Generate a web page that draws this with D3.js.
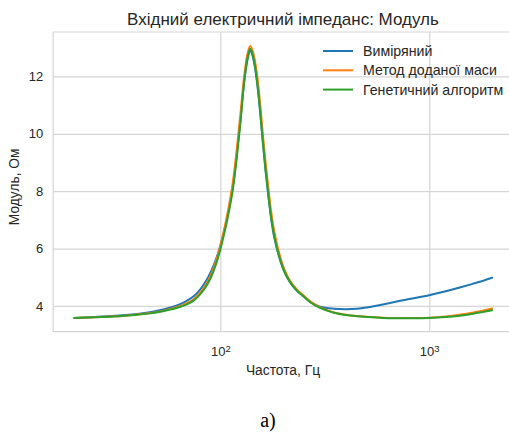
<!DOCTYPE html>
<html lang="uk">
<head>
    <meta charset="UTF-8">
    <title>Вхідний електричний імпеданс: Модуль</title>
    <script src="https://d3js.org/d3.v7.min.js"></script>
    <style>
        body { margin: 0; background: #fff; }
        svg { display: block; font-family: "Liberation Sans", Arial, sans-serif; }
        .tick text { fill: #262626; font-size: 13px; }
        .axis-label { fill: #262626; font-size: 13.8px; }
        .chart-title { fill: #262626; font-size: 17px; text-anchor: middle; }
        .legend-text { fill: #262626; font-size: 14.2px; }
    </style>
</head>
<body>
<svg width="509" height="432"></svg>
<script>
    // частоти, Гц
    const freq = [20, 25, 30, 35, 40, 45, 50, 55, 60, 65, 70, 75, 80, 85, 90, 95, 100, 105, 110, 115,
        120, 125, 130, 135, 139, 143, 148, 152, 156, 160, 165, 170, 175, 180, 190, 200, 210, 220, 235, 250,
        270, 300, 350, 400, 450, 500, 600, 700, 800, 1000, 1200, 1400, 1600, 1800, 2000];

    const measured = [3.58, 3.61, 3.645, 3.68, 3.72, 3.77, 3.83, 3.9, 3.98, 4.08, 4.2, 4.35, 4.57, 4.84, 5.18, 5.6, 6.1, 6.7, 7.4, 8.2,
        9.3, 10.5, 11.8, 12.6, 12.9, 12.7, 12.1, 11.4, 10.55, 9.65, 8.65, 7.8, 7.05, 6.5, 5.78, 5.28, 4.96, 4.73, 4.5, 4.34,
        4.14, 3.97, 3.9, 3.885, 3.9, 3.94, 4.05, 4.15, 4.24, 4.37, 4.51, 4.64, 4.76, 4.87, 4.98];

    const addedMass = [3.58, 3.6, 3.63, 3.66, 3.7, 3.74, 3.79, 3.86, 3.93, 4.01, 4.11, 4.25, 4.46, 4.72, 5.07, 5.53, 6.1, 6.76, 7.5, 8.35,
        9.5, 10.75, 12.0, 12.8, 13.06, 12.88, 12.35, 11.7, 10.85, 9.95, 8.95, 8.08, 7.3, 6.72, 5.92, 5.38, 5.03, 4.79, 4.54, 4.37,
        4.15, 3.95, 3.77, 3.69, 3.645, 3.62, 3.59, 3.578, 3.575, 3.59, 3.63, 3.69, 3.76, 3.83, 3.91];

    const genetic = [3.58, 3.6, 3.625, 3.655, 3.69, 3.73, 3.78, 3.84, 3.9, 3.98, 4.07, 4.2, 4.4, 4.65, 4.98, 5.42, 5.97, 6.6, 7.3, 8.1,
        9.2, 10.45, 11.8, 12.65, 12.97, 12.75, 12.15, 11.45, 10.6, 9.7, 8.7, 7.85, 7.1, 6.55, 5.8, 5.3, 4.97, 4.74, 4.5, 4.33,
        4.12, 3.93, 3.76, 3.68, 3.64, 3.615, 3.58, 3.568, 3.565, 3.575, 3.61, 3.66, 3.72, 3.785, 3.85];

    const seriesNames = ["Виміряний", "Метод доданої маси", "Генетичний алгоритм"];
    const seriesValues = [measured, addedMass, genetic];
    const colors = ["#1f77b4", "#ff7f0e", "#2ca02c"];
    const yTicks = [4, 6, 8, 10, 12];
    const xTicks = [100, 1000];

    const margin = { top: 32, left: 53.2, bottom: 331.7, right: 512.8 };
    const svg = d3.select("svg");

    const x = d3.scaleLog()
        .domain([Math.pow(10, 1.2), Math.pow(10, 3.4)])
        .range([margin.left, margin.right]);

    const y = d3.scaleLinear()
        .domain([3.10, 13.55])
        .range([margin.bottom, margin.top]);

    const plotW = margin.right - margin.left;
    const plotH = margin.bottom - margin.top;

    // сітка + підписи осей
    const yAxis = svg.append("g")
        .attr("transform", `translate(${margin.left},0)`)
        .call(d3.axisLeft(y).tickValues(yTicks).tickSize(-plotW).tickPadding(10).tickFormat(d3.format("d")));
    yAxis.select(".domain").remove();
    yAxis.selectAll(".tick line").attr("stroke", "#d5d5d5").attr("stroke-width", 1.2);

    const xAxis = svg.append("g")
        .attr("transform", `translate(0,${margin.bottom})`)
        .call(d3.axisBottom(x).tickValues(xTicks).tickSize(-plotH).tickPadding(15.5));
    xAxis.select(".domain").remove();
    xAxis.selectAll(".tick line").attr("stroke", "#d5d5d5").attr("stroke-width", 1.2);
    xAxis.selectAll(".tick text").each(function(d) {
        const t = d3.select(this);
        t.text("");
        t.append("tspan").text("10");
        t.append("tspan").attr("dy", "-0.5em").attr("font-size", "9.5px").text(Math.round(Math.log10(d)));
    });

    // рамка (ліва, верхня, нижня)
    svg.append("path")
        .attr("d", `M${margin.right},${margin.top}H${margin.left}V${margin.bottom}H${margin.right}`)
        .attr("fill", "none")
        .attr("stroke", "#d5d5d5")
        .attr("stroke-width", 1.2);

    // криві
    const line = d3.line()
        .x((d, i) => x(freq[i]))
        .y(d => y(d))
        .curve(d3.curveCatmullRom.alpha(0.5));

    seriesValues.forEach((vals, k) => {
        svg.append("path")
            .datum(vals)
            .attr("fill", "none")
            .attr("stroke", colors[k])
            .attr("stroke-width", 2)
            .attr("stroke-linejoin", "round")
            .attr("stroke-linecap", "round")
            .attr("d", line);
    });

    // легенда
    const legend = svg.append("g").attr("transform", "translate(323,51)");
    seriesNames.forEach((name, k) => {
        const g = legend.append("g").attr("transform", `translate(0,${k * 19.3})`);
        g.append("line").attr("x1", 0).attr("x2", 30).attr("y1", 0).attr("y2", 0)
            .attr("stroke", colors[k]).attr("stroke-width", 2);
        g.append("text").attr("class", "legend-text").attr("x", 40).attr("y", 5).text(name);
    });

    // заголовок і підписи
    svg.append("text")
        .attr("class", "chart-title")
        .attr("x", (margin.left + margin.right) / 2)
        .attr("y", 25)
        .text("Вхідний електричний імпеданс: Модуль");

    svg.append("text")
        .attr("class", "axis-label")
        .attr("text-anchor", "middle")
        .attr("x", (margin.left + margin.right) / 2)
        .attr("y", 375)
        .text("Частота, Гц");

    svg.append("text")
        .attr("class", "axis-label")
        .attr("text-anchor", "middle")
        .attr("transform", `translate(19,${(margin.top + margin.bottom) / 2 + 5}) rotate(-90)`)
        .text("Модуль, Ом");

    svg.append("text")
        .attr("x", 268)
        .attr("y", 427)
        .attr("text-anchor", "middle")
        .attr("font-family", "'Liberation Serif', 'Times New Roman', serif")
        .attr("font-size", "20px")
        .attr("fill", "#000")
        .text("а)");
</script>
</body>
</html>
